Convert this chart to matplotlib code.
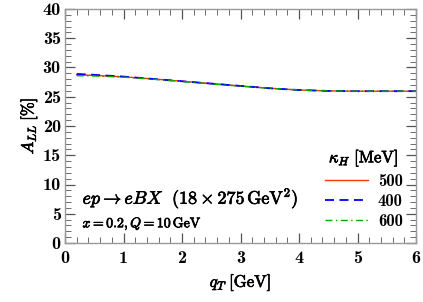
import numpy as np
import matplotlib
matplotlib.use('Agg')
from matplotlib import pyplot as plt
from matplotlib.ticker import MultipleLocator
import matplotlib.patheffects as pe

plt.rcParams['mathtext.fontset'] = 'cm'
plt.rcParams['font.family'] = 'serif'
plt.rcParams['font.serif'] = ['cmb10', 'DejaVu Serif']
plt.rcParams['axes.formatter.use_mathtext'] = True

qT = [0.2, 0.5, 1.0, 1.5, 2.0, 2.5, 3.0, 3.5, 4.0, 4.5, 5.0, 5.5, 6.0]
all_500 = [28.75, 28.65, 28.4, 28.05, 27.65, 27.25, 26.85, 26.45, 26.15, 26.0, 25.95, 25.95, 25.95]
all_400 = [28.9, 28.75, 28.45, 28.05, 27.65, 27.25, 26.85, 26.45, 26.15, 26.0, 25.95, 25.95, 25.95]
all_600 = [28.6, 28.55, 28.35, 28.0, 27.6, 27.2, 26.8, 26.45, 26.15, 26.0, 25.95, 25.95, 25.95]
kappa = ['500', '400', '600']

bold = [pe.withStroke(linewidth=0.5, foreground='black')]

fig = plt.figure(figsize=(4.23, 3.02), dpi=100)
ax = fig.add_axes([65/423, 1 - 243/302, 351/423, 234/302])

ax.plot(qT, all_500, color='#ff3300', ls='-', lw=1.0, label=kappa[0])
ax.plot(qT, all_400, color='#0000ff', ls=(0, (5, 3)), lw=1.3, label=kappa[1])
ax.plot(qT, all_600, color='#00aa00', ls=(0, (5, 2.5, 1, 2.5)), lw=1.0, label=kappa[2])

ax.set_xlim(0, 6)
ax.set_ylim(0, 40)
ax.xaxis.set_major_locator(MultipleLocator(1))
ax.xaxis.set_minor_locator(MultipleLocator(0.2))
ax.yaxis.set_major_locator(MultipleLocator(5))
ax.yaxis.set_minor_locator(MultipleLocator(1))
ax.tick_params(which='both', direction='in', top=True, right=True, color='#555555')
ax.tick_params(which='major', length=7, width=0.9)
ax.tick_params(which='minor', length=4, width=0.6)
for s in ax.spines.values():
    s.set_color('#999999')
    s.set_linewidth(1.0)

ax.set_xticks(range(7))
ax.set_xticklabels([str(v) for v in range(7)], fontsize=13, family='cmb10')
ax.set_yticks(range(0, 41, 5))
ax.set_yticklabels([str(v) for v in range(0, 41, 5)], fontsize=13, family='cmb10')
ax.tick_params(axis='x', pad=6)
ax.tick_params(axis='y', pad=3)

xl = ax.set_xlabel(r'$q_T\;[\mathrm{GeV}]$', fontsize=12, labelpad=4)
yl = ax.set_ylabel(r'$A_{LL}\;[\%]$', fontsize=12, labelpad=2)
xl.set_path_effects(bold)
yl.set_path_effects(bold)

t1 = ax.text(0.05, 0.19, r'$ep\rightarrow eBX\ \ (18\times 275\,\mathrm{GeV}^2)$',
             transform=ax.transAxes, fontsize=13, ha='left', va='center')
t2 = ax.text(0.05, 0.08, r'$x=0.2, Q=10\,\mathrm{GeV}$',
             transform=ax.transAxes, fontsize=10, ha='left', va='center')
t1.set_path_effects(bold)
t2.set_path_effects(bold)

leg = ax.legend(title=r'$\kappa_H\ [\mathrm{MeV}]$', loc='lower right',
                bbox_to_anchor=(1.005, -0.005), frameon=False,
                prop={'family': 'cmb10', 'size': 12},
                title_fontsize=12, handlelength=2.6, labelspacing=0.3,
                handletextpad=0.6)
leg.get_title().set_path_effects(bold)

fig.savefig('out.png', dpi=100)
